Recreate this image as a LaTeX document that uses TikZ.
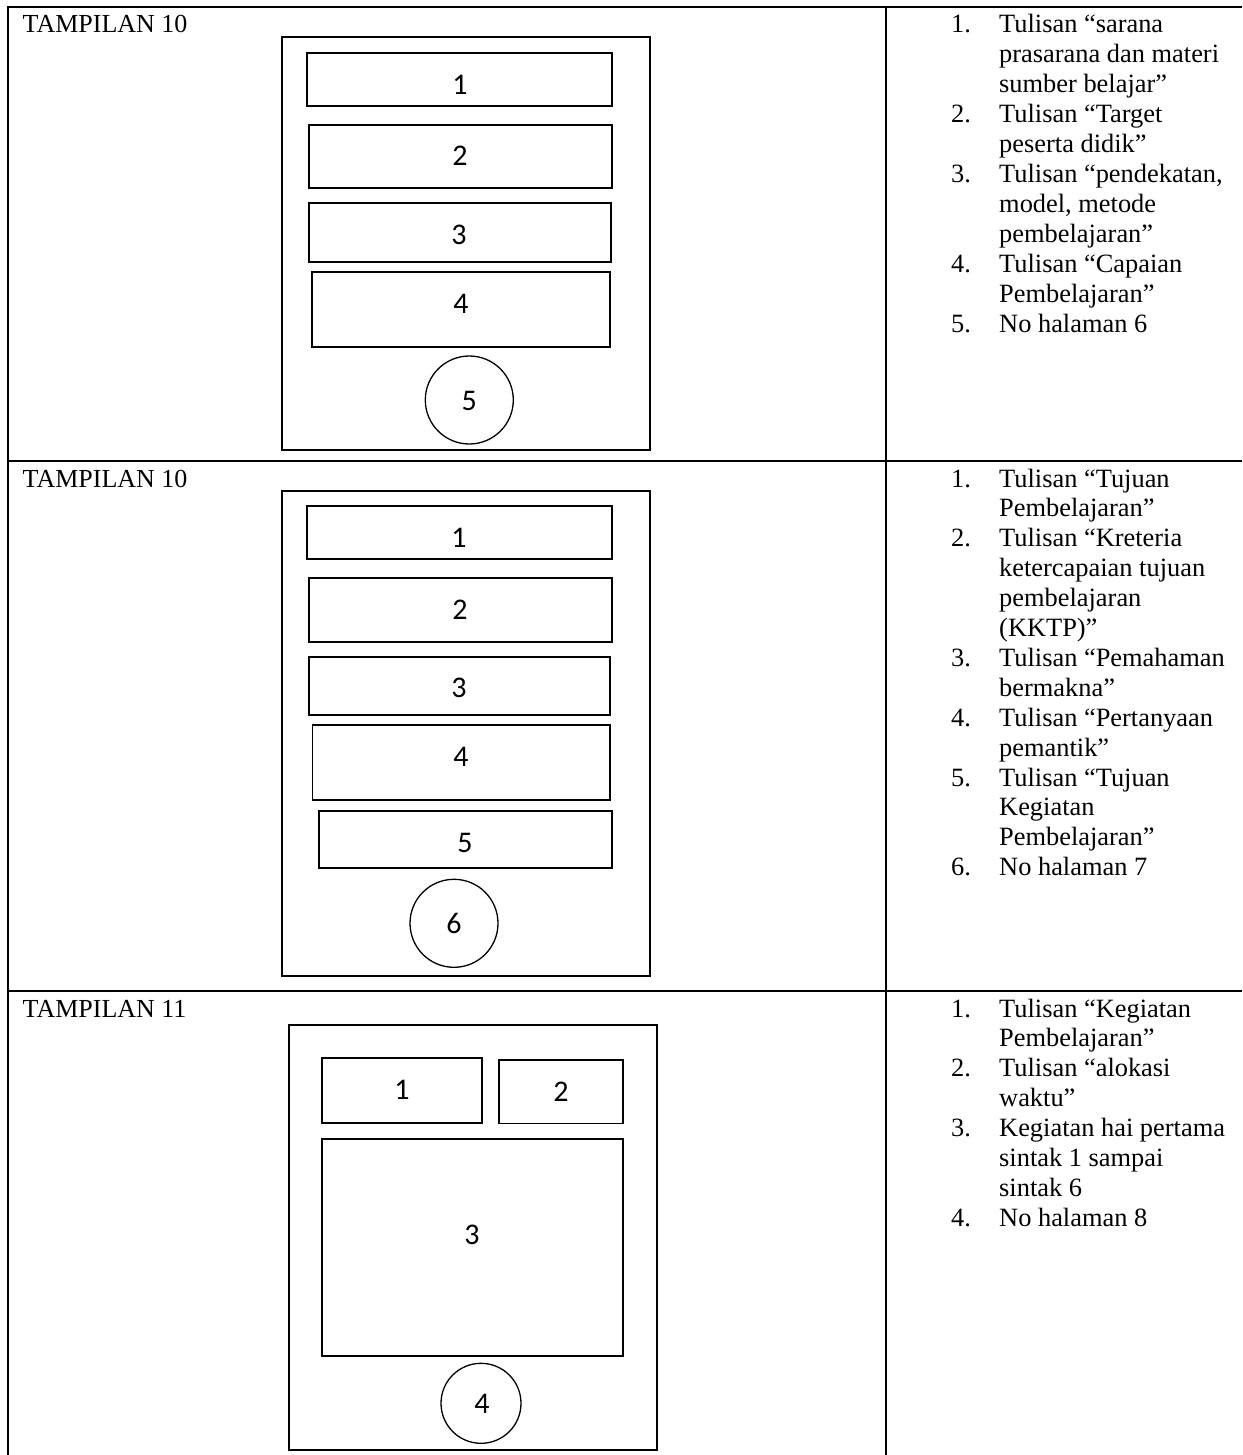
\documentclass[tikz,border=0pt]{standalone}
\usepackage{fontspec}
\setmainfont{Liberation Serif}
\newfontfamily\numfont{Carlito}
\begin{document}
\begin{tikzpicture}[x=1pt,y=-1pt,
  grid/.style={line width=2pt},
  frame/.style={draw,line width=1.8pt,inner sep=0pt},
  slot/.style={draw,line width=1.7pt,inner sep=0pt},
  pagenum/.style={draw,circle,line width=1.3pt,inner sep=0pt,minimum size=88pt},
  digit/.style={inner sep=0pt,font=\numfont\fontsize{30}{30}\selectfont},
  txt/.style={anchor=base west,inner sep=0pt,font=\fontsize{26.4}{30}\selectfont},
  rowlabel/.style={anchor=base west,inner sep=0pt,font=\fontsize{26}{30}\selectfont}]
\useasboundingbox (0,0) rectangle (1242,1455);
% table grid
\coordinate (tl) at (7.5,7);
\coordinate (tr) at (1242,7);
\coordinate (bl) at (7.5,1455);
\coordinate (ct) at (886,7);
\coordinate (cb) at (886,1455);
\coordinate (d1l) at (7.5,461);
\coordinate (d1r) at (1242,461);
\coordinate (d2l) at (7.5,991);
\coordinate (d2r) at (1242,991);
\draw[grid] (bl) -- (tl) -- (tr);
\draw[grid] (ct) -- (cb);
\draw[grid] (d1l) -- (d1r);
\draw[grid] (d2l) -- (d2r);
% row labels
\node[rowlabel] (lab1) at (22.5,33) {TAMPILAN 10};
\node[rowlabel] (lab2) at (22.5,487) {TAMPILAN 10};
\node[rowlabel] (lab3) at (22.5,1017) {TAMPILAN 11};
% ---- row 1 mock-up
\node[frame,minimum width=368pt,minimum height=413pt] (f1) at (466,243.5) {};
\node[slot,minimum width=304.4pt,minimum height=53.3pt] (a1) at (459.5,79.4) {};
\node[slot,minimum width=303pt,minimum height=63.3pt] (a2) at (460.5,156.6) {};
\node[slot,minimum width=302pt,minimum height=58.4pt] (a3) at (459.7,232.5) {};
\node[slot,minimum width=298pt,minimum height=75.3pt] (a4) at (461,309.3) {};
\node[pagenum] (a5) at (469.3,400) {};
\node[digit] (a1d) at (460,85) {1};
\node[digit] (a2d) at (460,156) {2};
\node[digit] (a3d) at (459,235) {3};
\node[digit] (a4d) at (461,304) {4};
\node[digit] (a5d) at (469.3,401) {5};
% ---- row 2 mock-up
\node[frame,minimum width=368pt,minimum height=485pt] (f2) at (466,733.5) {};
\node[slot,minimum width=304.4pt,minimum height=53.3pt] (b1) at (459.5,532.6) {};
\node[slot,minimum width=303pt,minimum height=63.4pt] (b2) at (460.5,610) {};
\node[slot,minimum width=301pt,minimum height=58.3pt] (b3) at (459.5,685.8) {};
\node[slot,minimum width=297.7pt,minimum height=75pt] (b4) at (461.2,762.5) {};
\node[slot,minimum width=293pt,minimum height=56.7pt] (b5) at (465.5,839.3) {};
\node[pagenum] (b6) at (454,923.3) {};
\node[digit] (b1d) at (459,538) {1};
\node[digit] (b2d) at (460,610) {2};
\node[digit] (b3d) at (459,688) {3};
\node[digit] (b4d) at (461,757) {4};
\node[digit] (b5d) at (465,843) {5};
\node[digit] (b6d) at (454,923) {6};
% ---- row 3 mock-up
\node[frame,minimum width=367.7pt,minimum height=425pt] (f3) at (472.8,1237.5) {};
\node[slot,minimum width=159.4pt,minimum height=65pt] (c1) at (402,1090.8) {};
\node[slot,minimum width=124pt,minimum height=63.3pt] (c2) at (561.3,1091.7) {};
\node[slot,minimum width=301pt,minimum height=216.7pt] (c3) at (472.8,1247.3) {};
\node[pagenum,minimum size=80pt] (c4) at (481,1403.3) {};
\node[digit] (c1d) at (402,1090) {1};
\node[digit] (c2d) at (561,1092) {2};
\node[digit] (c3d) at (472,1235) {3};
\node[digit] (c4d) at (482,1404) {4};
% ---- row 1 list
\foreach \i/\n/\t in {0/1./{Tulisan “sarana},1//{prasarana dan materi},2//{sumber belajar”},
  3/2./{Tulisan “Target},4//{peserta didik”},
  5/3./{Tulisan “pendekatan,},6//{model, metode},7//{pembelajaran”},
  8/4./{Tulisan “Capaian},9//{Pembelajaran”},
  10/5./{No halaman 6}}{
  \node[txt] (p1n\i) at (951,{33+29.9*\i}) {\n};
  \node[txt] (p1t\i) at (999,{33+29.9*\i}) {\t};
}
% ---- row 2 list
\foreach \i/\n/\t in {0/1./{Tulisan “Tujuan},1//{Pembelajaran”},
  2/2./{Tulisan “Kreteria},3//{ketercapaian tujuan},4//{pembelajaran},5//{(KKTP)”},
  6/3./{Tulisan “Pemahaman},7//{bermakna”},
  8/4./{Tulisan “Pertanyaan},9//{pemantik”},
  10/5./{Tulisan “Tujuan},11//{Kegiatan},12//{Pembelajaran”},
  13/6./{No halaman 7}}{
  \node[txt] (p2n\i) at (951,{487+29.9*\i}) {\n};
  \node[txt] (p2t\i) at (999,{487+29.9*\i}) {\t};
}
% ---- row 3 list
\foreach \i/\n/\t in {0/1./{Tulisan “Kegiatan},1//{Pembelajaran”},
  2/2./{Tulisan “alokasi},3//{waktu”},
  4/3./{Kegiatan hai pertama},5//{sintak 1 sampai},6//{sintak 6},
  7/4./{No halaman 8}}{
  \node[txt] (p3n\i) at (951,{1017+29.9*\i}) {\n};
  \node[txt] (p3t\i) at (999,{1017+29.9*\i}) {\t};
}
\end{tikzpicture}
\end{document}
